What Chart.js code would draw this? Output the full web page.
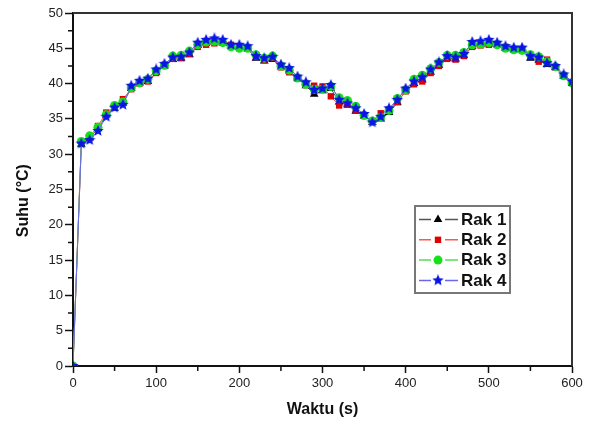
<!DOCTYPE html>
<html>
<head>
<meta charset="utf-8">
<script src="https://cdn.jsdelivr.net/npm/chart.js@4/dist/chart.umd.min.js"></script>
<style>
html,body{margin:0;padding:0;background:#fff;}
#wrap{width:597px;height:423px;}
</style>
</head>
<body>
<div id="wrap"><canvas id="c" width="597" height="423"></canvas></div>
<script>
const waktu = [0,10,20,30,40,50,60,70,80,90,100,110,120,130,140,150,160,170,180,190,200,210,220,230,240,250,260,270,280,290,300,310,320,330,340,350,360,370,380,390,400,410,420,430,440,450,460,470,480,490,500,510,520,530,540,550,560,570,580,590,600];
const rak1 = [0,31.4,32.3,33.6,35.5,36.5,37.2,39.3,40.1,40.3,41.6,42.5,43.4,43.6,44.1,45.4,45.7,45.9,45.7,45.3,45.1,44.9,43.6,43.2,43.4,42.4,41.8,40.8,39.7,38.5,39.0,39.3,37.4,37.0,36.1,35.4,34.5,35.0,35.9,37.3,39.0,40.0,40.5,41.6,42.6,43.6,43.5,44.0,45.3,45.5,45.6,45.5,45.0,44.8,44.9,43.6,43.3,42.7,42.3,41.0,40.0];
const rak2 = [0,31.6,32.5,34.0,35.9,36.7,37.8,39.2,40.0,40.3,41.5,42.5,43.5,43.6,44.2,45.2,45.5,45.7,45.8,45.5,45.1,45.0,43.8,43.3,43.6,42.3,41.6,40.7,39.8,39.7,39.6,38.2,36.9,37.0,36.2,35.4,34.7,35.8,36.3,37.4,38.9,39.9,40.3,41.5,42.5,43.5,43.4,43.9,45.2,45.4,45.5,45.6,45.2,44.9,44.7,43.9,43.1,43.4,42.3,41.2,40.2];
const rak3 = [0,31.8,32.6,33.8,35.6,36.9,37.4,39.4,40.1,40.6,41.8,42.6,43.9,44.0,44.6,45.5,45.9,46.0,45.8,45.2,45.0,45.0,44.1,43.6,43.9,42.5,41.9,40.8,39.9,39.2,39.2,39.6,38.0,37.6,36.8,35.5,34.7,35.2,36.2,37.9,39.1,40.6,41.2,42.1,43.0,44.0,44.0,44.4,45.5,45.6,45.8,45.5,45.0,44.8,44.7,44.1,43.8,43.1,42.4,41.1,40.1];
const rak4 = [0,31.5,32.0,33.3,35.3,36.6,37.0,39.7,40.4,40.7,42.0,42.8,43.7,43.8,44.4,45.8,46.2,46.4,46.2,45.5,45.5,45.3,43.9,43.6,43.8,42.7,42.2,41.0,40.2,39.1,39.3,39.8,37.7,37.2,36.5,35.7,34.5,35.3,36.5,37.7,39.3,40.3,40.9,42.0,43.0,43.9,43.7,44.2,45.9,46.0,46.2,45.8,45.3,45.1,45.1,43.9,43.7,42.9,42.5,41.3,40.3];
const seriesNames = ['Rak 1','Rak 2','Rak 3','Rak 4'];
const xTitle = 'Waktu (s)';
const yTitle = 'Suhu (°C)';

// filled star marker
function makeStar(size, color){
  const cv = document.createElement('canvas');
  cv.width = size; cv.height = size;
  const g = cv.getContext('2d');
  const cx = size/2, cy = size/2, R = size/2, r = R*0.45;
  g.beginPath();
  for(let i=0;i<10;i++){
    const ang = -Math.PI/2 + i*Math.PI/5;
    const rr = i%2===0 ? R : r;
    const px = cx + rr*Math.cos(ang), py = cy + rr*Math.sin(ang);
    if(i===0) g.moveTo(px,py); else g.lineTo(px,py);
  }
  g.closePath();
  g.fillStyle = color; g.fill();
  return cv;
}
const starImg = makeStar(12,'#0a14e6');

function toXY(arr){ return arr.map((v,i)=>({x:waktu[i], y:v})); }

const styles = [
  {line:'#555', fill:'#000', pointStyle:'triangle', r:5},
  {line:'#f55', fill:'#e00000', pointStyle:'rect', r:4.5},
  {line:'#5d5', fill:'#18e018', pointStyle:'circle', r:4.5},
  {line:'#6868ee', fill:'#0a14e6', pointStyle:starImg, r:6}
];
const values = [rak1, rak2, rak3, rak4];

const datasets = values.map((arr,i)=>({
  label: seriesNames[i],
  data: toXY(arr),
  borderColor: styles[i].line,
  backgroundColor: styles[i].fill,
  pointBackgroundColor: styles[i].fill,
  pointBorderColor: styles[i].fill,
  pointBorderWidth: 0,
  pointStyle: styles[i].pointStyle,
  pointRadius: styles[i].r,
  borderWidth: 1,
  tension: 0,
  order: 3 - i
}));

const framePlugin = {
  id:'frame',
  afterDraw(chart){
    const {ctx, chartArea:a, scales} = chart;
    ctx.save();
    ctx.strokeStyle = '#333';
    ctx.lineWidth = 2;
    ctx.beginPath();
    ctx.moveTo(a.left, a.top); ctx.lineTo(a.right, a.top); ctx.lineTo(a.right, a.bottom);
    ctx.stroke();
    ctx.strokeStyle = '#111';
    ctx.lineWidth = 1.5;
    ctx.beginPath();
    for(let v=50; v<600; v+=100){
      const px = scales.x.getPixelForValue(v);
      ctx.moveTo(px, a.bottom); ctx.lineTo(px, a.bottom+5);
    }
    for(let v=2.5; v<50; v+=5){
      const py = scales.y.getPixelForValue(v);
      ctx.moveTo(a.left, py); ctx.lineTo(a.left-5, py);
    }
    ctx.stroke();
    // legend
    const bx = 415, by = 206, bw = 95, bh = 87;
    ctx.fillStyle = '#fff';
    ctx.fillRect(bx,by,bw,bh);
    ctx.strokeStyle = '#777';
    ctx.lineWidth = 2;
    ctx.strokeRect(bx,by,bw,bh);
    chart.data.datasets.forEach((ds,i)=>{
      const yy = 219.5 + i*20.3;
      ctx.strokeStyle = ds.borderColor;
      ctx.lineWidth = 1.5;
      ctx.beginPath();
      ctx.moveTo(419, yy); ctx.lineTo(431, yy);
      ctx.moveTo(445, yy); ctx.lineTo(458, yy);
      ctx.stroke();
      ctx.fillStyle = ds.pointBackgroundColor;
      ctx.strokeStyle = ds.pointBorderColor;
      Chart.helpers.drawPoint(ctx, {pointStyle: ds.pointStyle, radius: ds.pointRadius, borderWidth: 0, rotation: 0}, 438, yy);
      ctx.fillStyle = '#111';
      ctx.font = 'bold 17px "Liberation Sans", Arial, sans-serif';
      ctx.textBaseline = 'middle';
      ctx.textAlign = 'left';
      ctx.fillText(ds.label, 461, yy+0.5);
    });
    ctx.restore();
  }
};

new Chart(document.getElementById('c'), {
  type:'line',
  data:{ datasets },
  options:{
    responsive:false,
    animation:false,
    devicePixelRatio:1,
    layout:{ padding:{ top:13, right:25, left:0, bottom:0 } },
    plugins:{ legend:{display:false}, tooltip:{enabled:false} },
    scales:{
      x:{
        type:'linear', min:0, max:600,
        ticks:{ stepSize:100, color:'#222', padding:3, maxRotation:0,
          font:{ family:'"Liberation Sans", Arial, sans-serif', size:13 } },
        grid:{ drawOnChartArea:false, tickLength:7, tickColor:'#111', tickWidth:1.5 },
        border:{ color:'#111', width:2 },
        title:{ display:true, text:xTitle, color:'#111', padding:{top:0,bottom:4},
          font:{ family:'"Liberation Sans", Arial, sans-serif', size:16, weight:'bold' } },
        afterFit(s){ s.height = 57; }
      },
      y:{
        type:'linear', min:0, max:50,
        ticks:{ stepSize:5, color:'#222', padding:2,
          font:{ family:'"Liberation Sans", Arial, sans-serif', size:13 } },
        grid:{ drawOnChartArea:false, tickLength:8, tickColor:'#111', tickWidth:1.5 },
        border:{ color:'#111', width:2 },
        title:{ display:true, text:yTitle + '     ', color:'#111', padding:{top:14,bottom:0},
          font:{ family:'"Liberation Sans", Arial, sans-serif', size:16, weight:'bold' } },
        afterFit(s){ s.width = 73; }
      }
    }
  },
  plugins:[framePlugin]
});
</script>
</body>
</html>
